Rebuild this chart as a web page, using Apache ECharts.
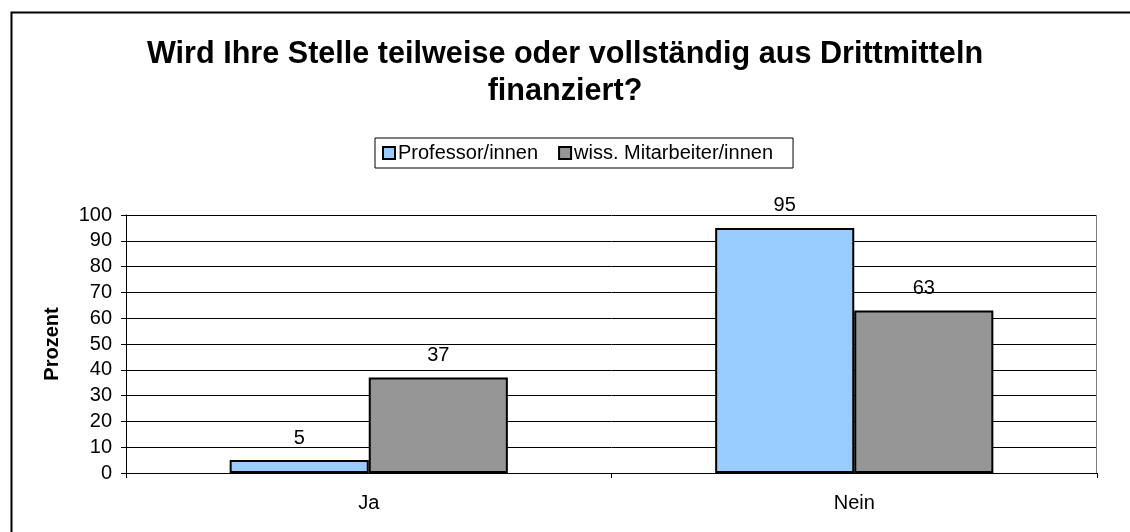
<!DOCTYPE html>
<html>
<head>
<meta charset="utf-8">
<script src="https://cdn.jsdelivr.net/npm/echarts@6/dist/echarts.min.js"></script>
<style>
html,body{margin:0;padding:0;background:#fff;}
#c{width:1130px;height:532px;}
</style>
</head>
<body>
<div id="c"></div>
<script>
const categories = ['Ja', 'Nein'];
const seriesNames = ['Professor/innen', 'wiss. Mitarbeiter/innen'];
const professoren = [5, 95];
const mitarbeiter = [37, 63];
const yTicks = [0, 10, 20, 30, 40, 50, 60, 70, 80, 90, 100];

const font = 'Liberation Sans, Arial, sans-serif';
const chart = echarts.init(document.getElementById('c'), null, {renderer: 'canvas'});
chart.setOption({
  animation: false,
  backgroundColor: '#fff',
  textStyle: {fontFamily: font},
  title: {
    text: 'Wird Ihre Stelle teilweise oder vollständig aus Drittmitteln\nfinanziert?',
    left: 'center', top: 31,
    textStyle: {fontSize: 30.6, fontWeight: 'bold', color: '#000', lineHeight: 37, fontFamily: font, align: 'center'}
  },
  legend: {
    top: 138, left: 375,
    itemWidth: 12, itemHeight: 12, itemGap: 20,
    padding: [5, 20, 5, 7],
    borderColor: '#000', borderWidth: 1,
    icon: 'rect',
    textStyle: {fontSize: 20, color: '#000', fontFamily: font, padding: [0, 0, 0, -2]},
    data: seriesNames
  },
  grid: {left: 126, right: 33, top: 215, bottom: 59, containLabel: false},
  xAxis: {
    type: 'category',
    data: categories,
    axisLine: {lineStyle: {color: '#000', width: 1}},
    axisTick: {show: true, length: 5, lineStyle: {color: '#000'}},
    axisLabel: {fontSize: 20, color: '#000', margin: 20, fontFamily: font}
  },
  yAxis: {
    type: 'value', min: 0, max: 100, interval: 10,
    name: 'Prozent', nameLocation: 'middle', nameGap: 64, nameRotate: 90,
    nameTextStyle: {fontSize: 20, fontWeight: 'bold', color: '#000', fontFamily: font},
    axisLine: {show: true, lineStyle: {color: '#000'}},
    axisTick: {show: true, length: 5, lineStyle: {color: '#000'}},
    axisLabel: {fontSize: 20, color: '#000', margin: 14, fontFamily: font,
      formatter: v => yTicks.includes(v) ? String(v) : ''},
    splitLine: {show: true, lineStyle: {color: '#000', width: 1}}
  },
  series: [
    {
      name: seriesNames[0], type: 'bar', data: professoren,
      barGap: '0%', barCategoryGap: '42.7%',
      itemStyle: {color: '#99ccff', borderColor: '#000', borderWidth: 2},
      label: {show: true, position: 'top', distance: 12, fontSize: 20, color: '#000', fontFamily: font}
    },
    {
      name: seriesNames[1], type: 'bar', data: mitarbeiter,
      barGap: '0%', barCategoryGap: '42.7%',
      itemStyle: {color: '#969696', borderColor: '#000', borderWidth: 2},
      label: {show: true, position: 'top', distance: 12, fontSize: 20, color: '#000', fontFamily: font}
    }
  ],
  graphic: [
    {type: 'rect', left: 9, top: 10, z: 100, silent: true,
     shape: {x: 0, y: 0, width: 1140, height: 540},
     style: {fill: 'none', stroke: '#000', lineWidth: 2}},
    {type: 'rect', left: 1096, top: 215, z: 100, silent: true,
     shape: {x: 0, y: 0, width: 1, height: 258},
     style: {fill: '#808080'}}
  ]
});
</script>
</body>
</html>
